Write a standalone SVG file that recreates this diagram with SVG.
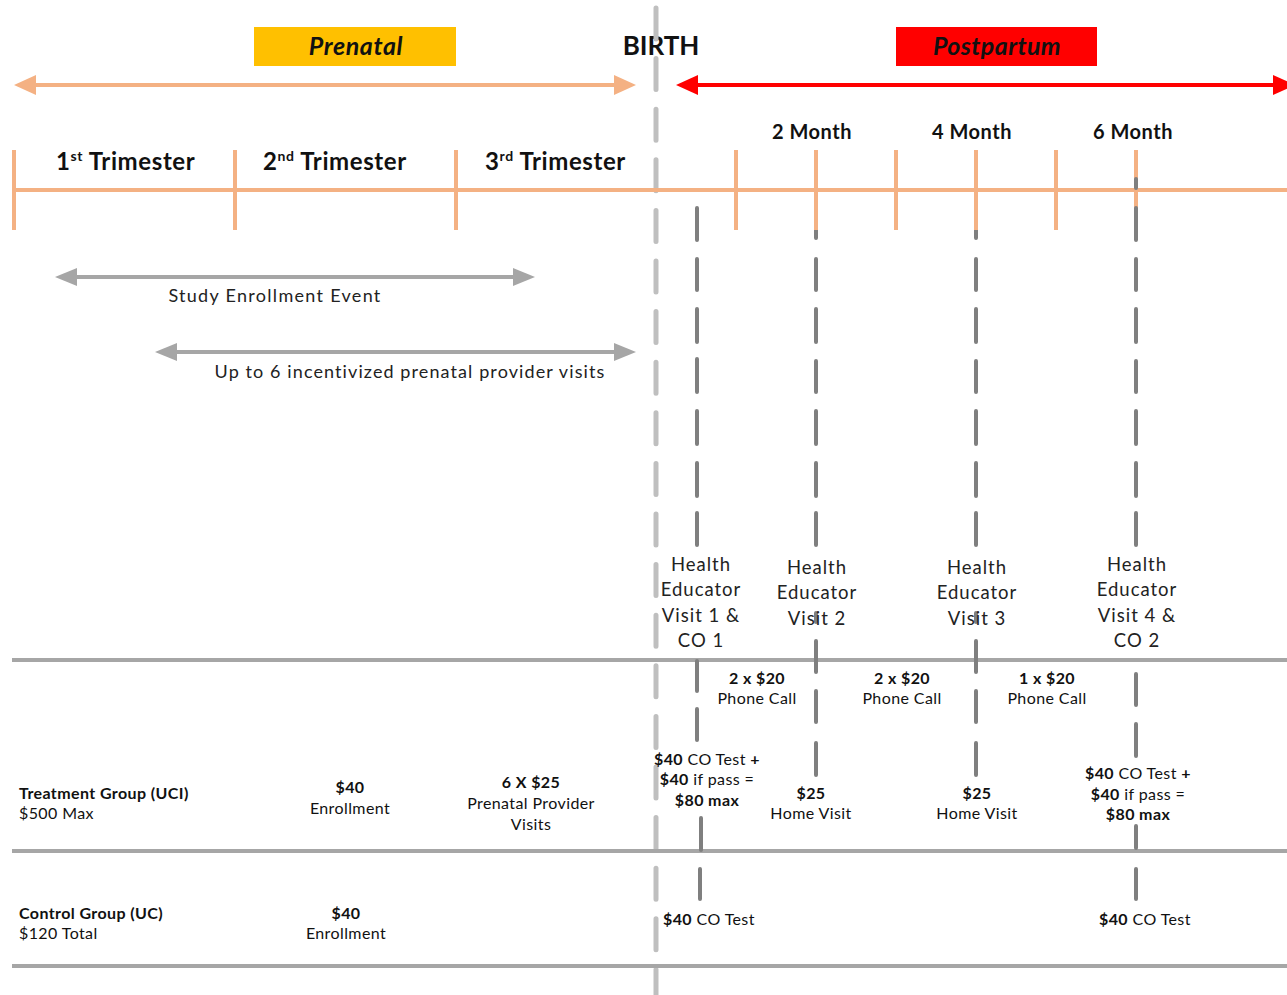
<svg xmlns="http://www.w3.org/2000/svg" width="1287" height="995" viewBox="0 0 1287 995">
<defs>
<style>
text{font-family:Lato,"Liberation Sans",sans-serif;fill:#111}
.b{font-weight:bold}
.hd{font-size:24px;font-weight:bold;letter-spacing:0.6px}
.mo{font-size:20px;font-weight:bold;letter-spacing:0.5px}
.lab{font-size:18px;fill:#222}
.he{font-size:18.5px;fill:#222;text-anchor:middle;letter-spacing:1px}
.t{font-size:16px;fill:#111;letter-spacing:0.4px}
.tc{font-size:16px;fill:#111;text-anchor:middle;letter-spacing:0.4px}
.orange{stroke:#f4b183;stroke-width:4;fill:none}
.rule{stroke:#a6a6a6;stroke-width:4;fill:none}
.birth{stroke:#bfbfbf;stroke-width:5;fill:none;stroke-linecap:round;stroke-dasharray:31 19.6}
.dk{stroke:#7f7f7f;stroke-width:4;fill:none;stroke-linecap:round}
</style>
<marker id="ao" markerUnits="userSpaceOnUse" markerWidth="22" markerHeight="22" viewBox="0 0 22 22" refX="3" refY="11" orient="auto-start-reverse"><path d="M0,1 L22,11 L0,21 z" fill="#f4b183"/></marker>
<marker id="ar" markerUnits="userSpaceOnUse" markerWidth="22" markerHeight="22" viewBox="0 0 22 22" refX="3" refY="11" orient="auto-start-reverse"><path d="M0,1 L22,11 L0,21 z" fill="#ff0000"/></marker>
<marker id="ag" markerUnits="userSpaceOnUse" markerWidth="22" markerHeight="20" viewBox="0 0 22 20" refX="3" refY="10" orient="auto-start-reverse"><path d="M0,1 L22,10 L0,19 z" fill="#a6a6a6"/></marker>
</defs>

<g id="phase-labels">
<rect x="254" y="27" width="202" height="39" fill="#ffc000"/>
<text x="356" y="55" text-anchor="middle" style="font-size:25px;font-weight:bold;font-style:italic;letter-spacing:0.6px">Prenatal</text>
<rect x="896" y="27" width="201" height="39" fill="#ff0000"/>
<text x="997" y="55" text-anchor="middle" style="font-size:25px;font-weight:bold;font-style:italic;letter-spacing:0.4px">Postpartum</text>
<text x="661" y="55" text-anchor="middle" style="font-size:26px;font-weight:bold">BIRTH</text>
</g>

<g id="connectors">
<line class="birth" x1="656" y1="8" x2="656" y2="995"/>
<line x1="33" y1="85" x2="617" y2="85" stroke="#f4b183" stroke-width="4" marker-start="url(#ao)" marker-end="url(#ao)"/>
<line x1="695" y1="85" x2="1276" y2="85" stroke="#ff0000" stroke-width="4" marker-start="url(#ar)" marker-end="url(#ar)"/>
<line x1="74" y1="277" x2="516" y2="277" stroke="#a6a6a6" stroke-width="4" marker-start="url(#ag)" marker-end="url(#ag)"/>
<line x1="174" y1="352" x2="617" y2="352" stroke="#a6a6a6" stroke-width="4" marker-start="url(#ag)" marker-end="url(#ag)"/>
<line class="rule" x1="12" y1="660" x2="1287" y2="660"/>
<line class="rule" x1="12" y1="851" x2="1287" y2="851"/>
<line class="rule" x1="12" y1="966" x2="1287" y2="966"/>
<path class="dk" d="M697,208V240M697,259V290M697,309V342M697,359V392M697,411V444M697,463V496M697,513V545M697,661V691M697,709V740M701,818V850M700,869V899"/>
<path class="dk" d="M816,230V238M816,259V290M816,309V342M816,361V392M816,411V444M816,463V496M816,513V545M816,613V622M816,641V672M816,691V722M816,743V775"/>
<path class="dk" d="M976,230V238M976,259V290M976,309V342M976,361V392M976,411V444M976,463V496M976,513V545M976,613V622M976,641V672M976,691V722M976,743V775"/>
<line class="orange" x1="14" y1="190" x2="1287" y2="190"/>
<path class="orange" d="M14,150V230M235,150V230M456,150V230M736,150V230M816,150V230M896,150V230M976,150V230M1056,150V230M1136,150V230"/>
<path class="dk" d="M1136,179V188M1136,208V240M1136,259V290M1136,309V342M1136,361V392M1136,411V444M1136,463V496M1136,513V545M1136,674V705M1136,724V756M1136,826V848M1136,869V899"/>
</g>

<g id="trimesters">
<text x="56" y="170" class="hd">1<tspan dy="-9" style="font-size:14px">st</tspan><tspan dy="9"> Trimester</tspan></text>
<text x="263" y="170" class="hd">2<tspan dy="-9" style="font-size:14px">nd</tspan><tspan dy="9"> Trimester</tspan></text>
<text x="485" y="170" class="hd">3<tspan dy="-9" style="font-size:14px">rd</tspan><tspan dy="9"> Trimester</tspan></text>
</g>

<g id="months">
<text x="812" y="139" class="mo" text-anchor="middle">2 Month</text>
<text x="972" y="139" class="mo" text-anchor="middle">4 Month</text>
<text x="1133" y="139" class="mo" text-anchor="middle">6 Month</text>
</g>

<g id="study-enrollment">
<text x="275" y="302" class="lab" text-anchor="middle" style="letter-spacing:1.3px">Study Enrollment Event</text>
</g>
<g id="prenatal-visits">
<text x="410" y="378" class="lab" text-anchor="middle" style="letter-spacing:1.1px">Up to 6 incentivized prenatal provider visits</text>
</g>

<g id="visit1">
<text class="he" x="701" y="571">Health</text>
<text class="he" x="701" y="596">Educator</text>
<text class="he" x="701" y="622">Visit 1 &amp;</text>
<text class="he" x="701" y="647">CO 1</text>
</g>
<g id="visit2">
<text class="he" x="817" y="574">Health</text>
<text class="he" x="817" y="599">Educator</text>
<text class="he" x="817" y="625">Visit 2</text>
</g>
<g id="visit3">
<text class="he" x="977" y="574">Health</text>
<text class="he" x="977" y="599">Educator</text>
<text class="he" x="977" y="625">Visit 3</text>
</g>
<g id="visit4">
<text class="he" x="1137" y="571">Health</text>
<text class="he" x="1137" y="596">Educator</text>
<text class="he" x="1137" y="622">Visit 4 &amp;</text>
<text class="he" x="1137" y="647">CO 2</text>
</g>

<g id="phone-calls">
<text class="tc b" x="757" y="684">2 x $20</text>
<text class="tc" x="757" y="704">Phone Call</text>
<text class="tc b" x="902" y="684">2 x $20</text>
<text class="tc" x="902" y="704">Phone Call</text>
<text class="tc b" x="1047" y="684">1 x $20</text>
<text class="tc" x="1047" y="704">Phone Call</text>
</g>

<g id="treatment-group">
<text class="t b" x="19" y="799">Treatment Group (UCI)</text>
<text class="t" x="19" y="819">$500 Max</text>
<text class="tc b" x="350" y="793">$40</text>
<text class="tc" x="350" y="814">Enrollment</text>
<text class="tc b" x="531" y="788">6 X $25</text>
<text class="tc" x="531" y="809">Prenatal Provider</text>
<text class="tc" x="531" y="830">Visits</text>
<text class="tc" x="707" y="765"><tspan class="b">$40</tspan> CO Test <tspan class="b">+</tspan></text>
<text class="tc" x="707" y="785"><tspan class="b">$40</tspan> if pass =</text>
<text class="tc b" x="707" y="806">$80 max</text>
<text class="tc b" x="811" y="799">$25</text>
<text class="tc" x="811" y="819">Home Visit</text>
<text class="tc b" x="977" y="799">$25</text>
<text class="tc" x="977" y="819">Home Visit</text>
<text class="tc" x="1138" y="779"><tspan class="b">$40</tspan> CO Test <tspan class="b">+</tspan></text>
<text class="tc" x="1138" y="800"><tspan class="b">$40</tspan> if pass =</text>
<text class="tc b" x="1138" y="820">$80 max</text>
</g>

<g id="control-group">
<text class="t b" x="19" y="919">Control Group (UC)</text>
<text class="t" x="19" y="939">$120 Total</text>
<text class="tc b" x="346" y="919">$40</text>
<text class="tc" x="346" y="939">Enrollment</text>
<text class="t" x="663" y="925"><tspan class="b">$40</tspan> CO Test</text>
<text class="t" x="1099" y="925"><tspan class="b">$40</tspan> CO Test</text>
</g>
</svg>
